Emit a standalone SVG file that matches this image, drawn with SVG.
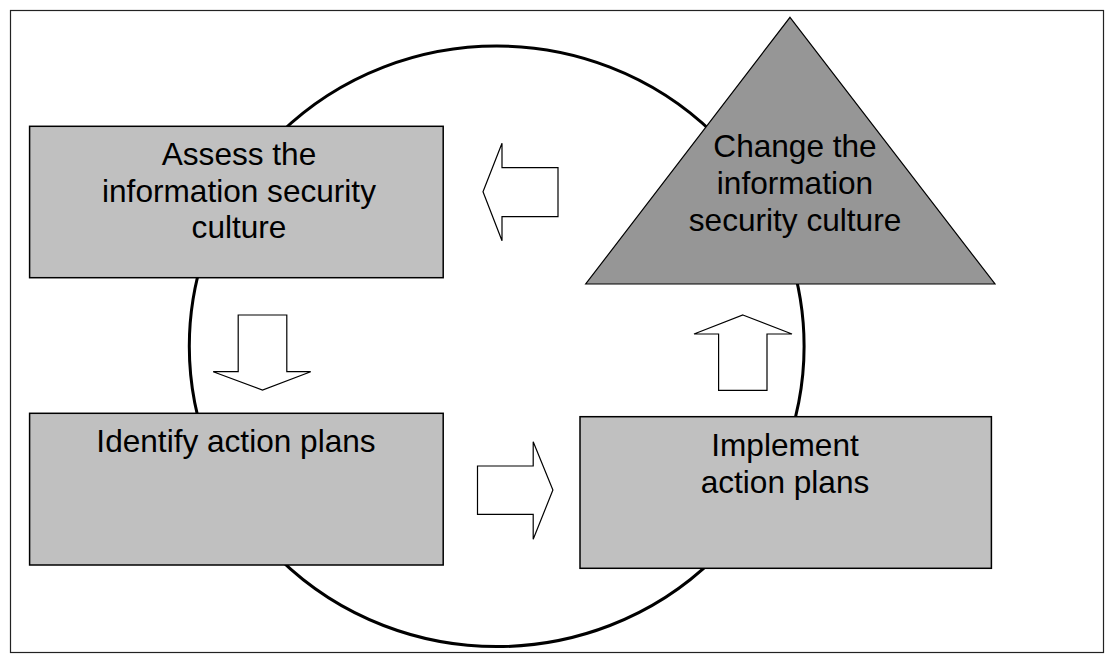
<svg xmlns="http://www.w3.org/2000/svg" width="1113" height="664" viewBox="0 0 1113 664">
<style>
.box{fill:#c0c0c0;stroke:#000;stroke-width:1.5}
.tri{fill:#969696;stroke:#000;stroke-width:1.2}
.arr{fill:#fff;stroke:#000;stroke-width:1.2;stroke-linejoin:miter}
.t{font-family:"Liberation Sans",Arial,sans-serif;font-size:31.6px;fill:#000;text-anchor:middle}
</style>
<rect x="10.5" y="10.5" width="1093" height="642" fill="#fff" stroke="#222" stroke-width="1.2"/>
<ellipse id="cycle" cx="496.7" cy="346.3" rx="307.4" ry="300.3" fill="none" stroke="#000" stroke-width="3"/>
<g id="assess">
<rect class="box" x="29.6" y="126.3" width="413.6" height="151.4"/>
<text class="t" x="239" y="165">Assess the</text>
<text class="t" x="239" y="201.7">information security</text>
<text class="t" x="239" y="238.3">culture</text>
</g>
<g id="identify">
<rect class="box" x="29.6" y="413.3" width="413.6" height="151.7"/>
<text class="t" x="236" y="452.3">Identify action plans</text>
</g>
<g id="implement">
<rect class="box" x="580" y="416.7" width="411.4" height="151.6"/>
<text class="t" x="785" y="456">Implement</text>
<text class="t" x="785" y="492.7">action plans</text>
</g>
<g id="change">
<polygon class="tri" points="790,17.3 995,284 585.7,284"/>
<text class="t" x="795" y="157.3">Change the</text>
<text class="t" x="795" y="194.3">information</text>
<text class="t" x="795" y="231">security culture</text>
</g>
<g id="connectors">
<polygon class="arr" points="483,191.7 502,143.3 502,167.7 558,167.7 558,216.7 502,216.7 502,240.7"/>
<polygon class="arr" points="238.2,315 286.8,315 286.8,371.7 310.7,371.7 262.5,390 213.2,371.7 238.2,371.7"/>
<polygon class="arr" points="477.5,466 533.2,466 533.2,441.7 552.9,490 533.2,539.3 533.2,514.3 477.5,514.3"/>
<polygon class="arr" points="742.9,315 792,334 767,334 767,390.3 718.6,390.3 718.6,334 694,334"/>
</g>
</svg>
